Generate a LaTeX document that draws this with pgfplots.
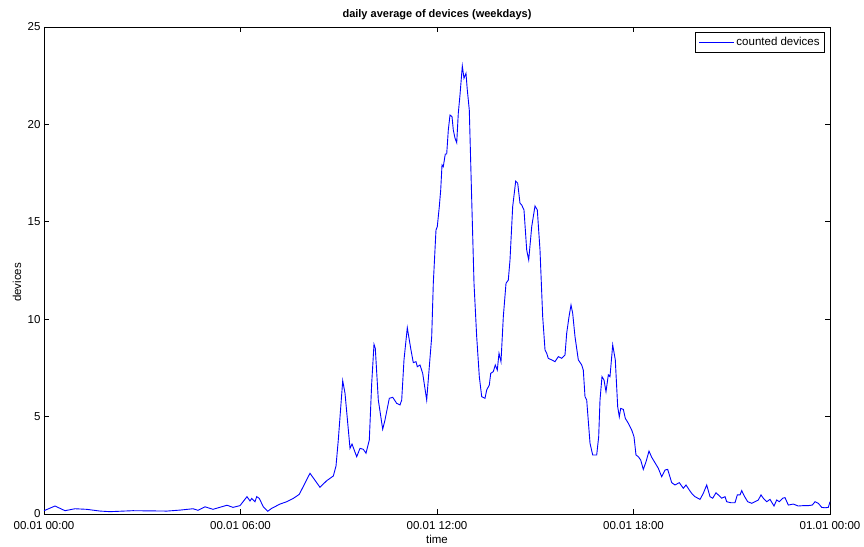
\documentclass[border=0pt]{standalone}
\usepackage{pgfplots}
\pgfplotsset{compat=1.18}
\usepackage{pgfplotstable}
\usepackage{fontspec}
\setmainfont{Liberation Sans}
\usetikzlibrary{calc}
\definecolor{mblue}{RGB}{0,0,255}

\pgfplotstableread{
h y
0.000 0.17
0.336 0.41
0.641 0.17
0.947 0.27
1.304 0.24
1.710 0.15
2.015 0.12
2.718 0.17
3.756 0.15
4.153 0.20
4.550 0.27
4.702 0.19
4.916 0.37
5.160 0.24
5.588 0.45
5.771 0.34
5.985 0.43
6.198 0.89
6.290 0.67
6.342 0.80
6.443 0.63
6.495 0.89
6.574 0.80
6.696 0.37
6.831 0.14
6.953 0.29
7.206 0.51
7.411 0.63
7.612 0.80
7.795 1.01
8.122 2.09
8.427 1.37
8.632 1.71
8.834 1.95
8.916 2.46
8.986 3.80
9.121 6.84
9.191 6.20
9.344 3.37
9.405 3.59
9.548 2.94
9.649 3.37
9.750 3.32
9.832 3.12
9.933 3.80
10.006 6.71
10.076 8.71
10.116 8.50
10.208 5.85
10.342 4.35
10.412 4.83
10.544 5.94
10.647 5.99
10.769 5.68
10.870 5.60
10.922 5.85
10.992 7.91
11.093 9.56
11.197 8.50
11.276 7.77
11.359 7.82
11.398 7.56
11.481 7.65
11.563 7.22
11.685 5.85
11.765 7.56
11.838 9.10
11.887 11.84
11.969 14.58
12.009 14.75
12.070 15.78
12.113 16.63
12.153 17.92
12.192 17.83
12.253 18.48
12.296 18.48
12.345 19.71
12.397 20.48
12.458 20.40
12.498 19.71
12.550 19.29
12.602 19.06
12.650 20.57
12.702 21.51
12.773 23.00
12.824 22.37
12.885 22.62
12.925 21.77
12.986 20.74
13.060 16.12
13.130 11.84
13.212 9.10
13.292 7.05
13.365 6.02
13.466 5.94
13.518 6.37
13.597 6.62
13.640 7.22
13.719 7.31
13.780 7.65
13.841 7.39
13.893 8.25
13.954 7.82
14.025 10.13
14.107 11.84
14.177 12.01
14.229 13.04
14.311 15.78
14.403 17.09
14.464 16.98
14.534 15.95
14.586 15.86
14.656 15.61
14.739 13.55
14.800 13.04
14.892 14.75
14.992 15.81
15.063 15.61
15.145 13.55
15.227 10.13
15.298 8.42
15.350 8.25
15.398 7.99
15.502 7.91
15.603 7.82
15.704 8.08
15.808 7.99
15.908 8.16
15.960 9.28
16.031 10.13
16.092 10.73
16.143 10.30
16.214 9.10
16.315 7.91
16.418 7.65
16.467 7.39
16.519 6.02
16.571 5.85
16.672 3.63
16.754 3.03
16.876 3.03
16.937 3.97
16.977 5.85
17.038 7.05
17.099 6.88
17.160 6.28
17.231 7.14
17.282 7.05
17.365 8.68
17.444 7.91
17.517 5.51
17.566 4.99
17.609 5.42
17.689 5.37
17.750 4.91
17.841 4.66
17.945 4.31
18.015 3.97
18.076 3.03
18.147 2.94
18.220 2.77
18.299 2.29
18.382 2.68
18.473 3.23
18.556 2.91
18.656 2.63
18.757 2.35
18.861 1.91
18.962 2.26
19.044 2.29
19.166 1.61
19.267 1.49
19.398 1.61
19.521 1.32
19.603 1.49
19.704 1.23
19.777 1.06
19.878 0.89
20.031 0.75
20.131 1.06
20.235 1.49
20.336 0.89
20.418 0.81
20.519 1.09
20.589 0.98
20.693 0.81
20.794 0.89
20.846 0.63
20.968 0.58
21.099 0.58
21.170 0.98
21.252 0.98
21.304 1.20
21.383 0.92
21.487 0.63
21.609 0.55
21.710 0.63
21.811 0.72
21.893 0.98
21.963 0.81
22.067 0.63
22.168 0.75
22.290 0.41
22.372 0.72
22.452 0.63
22.556 0.81
22.626 0.84
22.727 0.46
22.879 0.51
23.032 0.41
23.185 0.43
23.337 0.43
23.460 0.46
23.542 0.63
23.643 0.55
23.746 0.34
23.847 0.32
23.948 0.34
24.000 0.63
}\devicedata

\begin{document}
\begin{tikzpicture}
\begin{axis}[
  scale only axis,
  width=786pt, height=487pt,
  xmin=0, xmax=24, ymin=0, ymax=25,
  xtick={0,6,12,18,24},
  xticklabels={00.01 00:00,00.01 06:00,00.01 12:00,00.01 18:00,01.01 00:00},
  ytick={0,5,10,15,20,25},
  tick align=inside,
  tick pos=both,
  major tick length=5pt,
  axis line style={line width=0.9pt},
  every tick/.style={black, line width=0.6pt},
  /pgf/number format/assume math mode=true,
  font=\fontsize{11.5}{13}\selectfont,
  ticklabel style={font=\fontsize{11.5}{13}\selectfont},
  xticklabel style={yshift=-4pt},
  title={\textbf{daily average of devices (weekdays)}},
  title style={at={(axis description cs:0.5,1)}, anchor=base, yshift=3pt, font=\fontsize{11}{13}\selectfont},
  xlabel={time},
  xlabel style={at={(axis description cs:0.5,0)}, anchor=base, yshift=-29pt},
  ylabel={devices},
  ylabel style={at={(axis description cs:0,0.5)}, anchor=center, xshift=-12pt, yshift=27pt},
  legend style={at={(axis description cs:1,1)}, anchor=north east, xshift=-5pt, yshift=-5pt,
    draw=black, line width=0.8pt, font=\fontsize{11.5}{13}\selectfont, inner sep=3pt,
    row sep=0pt},
  legend cell align=left,
  legend image code/.code={\draw[#1] (0pt,0pt) -- (35pt,0pt);},
]
\addplot[mblue, line width=0.9pt] table[x=h, y=y] {\devicedata};
\addlegendentry{counted devices}
\coordinate (bl) at (rel axis cs:0,0);
\coordinate (tr) at (rel axis cs:1,1);
\end{axis}
\pgfresetboundingbox
\path ($(bl)+(-44pt,-32pt)$) rectangle ($(tr)+(34pt,27pt)$);
\end{tikzpicture}
\end{document}
